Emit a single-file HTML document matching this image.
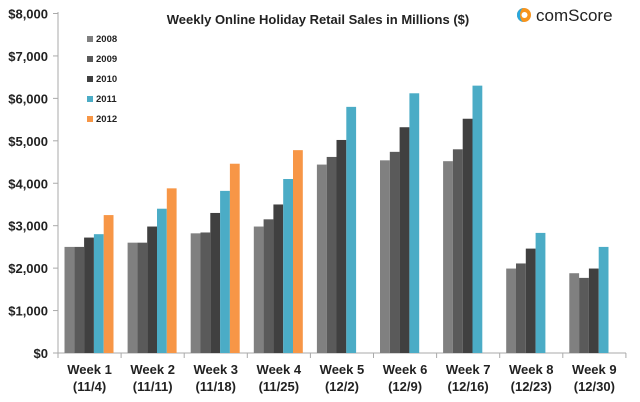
<!DOCTYPE html>
<html><head><style>body{margin:0;background:#fff}svg{display:block}text{font-family:"Liberation Sans",sans-serif;font-weight:bold;fill:#222}</style></head>
<body>
<svg width="640" height="402" viewBox="0 0 640 402">
<line x1="58" y1="12" x2="58" y2="353" stroke="#aaa" stroke-width="1"/>
<line x1="58" y1="353" x2="626" y2="353" stroke="#aaa" stroke-width="1"/>
<g id="yt" font-size="13"></g>
<g id="bars"></g>
<text x="318" y="24" font-size="13" text-anchor="middle">Weekly Online Holiday Retail Sales in Millions ($)</text>
<g transform="translate(524,15)">
<circle cx="0" cy="0" r="7" fill="#f7941d"/>
<path d="M0,-7 A7,7 0 0,0 0,7 A4,7 0 0,1 0,-7" fill="#29a8df"/>
<circle cx="0.5" cy="0" r="3" fill="#fff"/>
<text x="12" y="6" font-size="17" style="font-weight:normal" fill="#666">comScore</text>
</g>
<g font-size="9.5">
<rect x="87" y="36" width="6" height="6" fill="#808080"/><text x="96" y="42">2008</text>
<rect x="87" y="56" width="6" height="6" fill="#5a5a5a"/><text x="96" y="62">2009</text>
<rect x="87" y="76" width="6" height="6" fill="#404040"/><text x="96" y="82">2010</text>
<rect x="87" y="96" width="6" height="6" fill="#4bacc6"/><text x="96" y="102">2011</text>
<rect x="87" y="116" width="6" height="6" fill="#f79646"/><text x="96" y="122">2012</text>
</g>
</svg>
<script>
var ns="http://www.w3.org/2000/svg",s=document.querySelector('svg');
function el(t,a,p,tx){var e=document.createElementNS(ns,t);for(var k in a)e.setAttribute(k,a[k]);if(tx)e.textContent=tx;(p||s).appendChild(e);return e;}
var y0=353,k=339.5/8000;
var yt=document.getElementById('yt');
for(var i=0;i<=8;i++){var y=y0-i*1000*k;el('line',{x1:53,y1:y,x2:58,y2:y,stroke:'#aaa'},yt);
el('text',{x:48,y:y+5,'text-anchor':'end'},yt,'$'+(i?i+',000':'0'));}
var d=[[2500,2500,2720,2800,3250],[2600,2600,2980,3400,3880],[2820,2840,3300,3820,4460],[2980,3150,3500,4100,4780],[4440,4620,5020,5800],[4540,4740,5320,6120],[4520,4800,5520,6300],[1990,2110,2460,2830],[1880,1770,1990,2500]];
var c=['#808080','#5a5a5a','#404040','#4bacc6','#f79646'];
var lb=[['Week 1','(11/4)'],['Week 2','(11/11)'],['Week 3','(11/18)'],['Week 4','(11/25)'],['Week 5','(12/2)'],['Week 6','(12/9)'],['Week 7','(12/16)'],['Week 8','(12/23)'],['Week 9','(12/30)']];
var bg=document.getElementById('bars'),cw=63.1;
for(var g=0;g<9;g++){var x0=58+g*cw;
el('line',{x1:x0+cw,y1:353,x2:x0+cw,y2:358,stroke:'#aaa'});
for(var j=0;j<d[g].length;j++){var h=d[g][j]*k;el('rect',{x:x0+6.5+j*9.8,y:y0-h,width:9.8,height:h,fill:c[j]},bg);}
el('text',{x:x0+cw/2,y:374,'font-size':13,'text-anchor':'middle'},s,lb[g][0]);
el('text',{x:x0+cw/2,y:391,'font-size':13,'text-anchor':'middle'},s,lb[g][1]);}
el('line',{x1:58,y1:353,x2:58,y2:358,stroke:'#aaa'});
</script>
</body></html>
